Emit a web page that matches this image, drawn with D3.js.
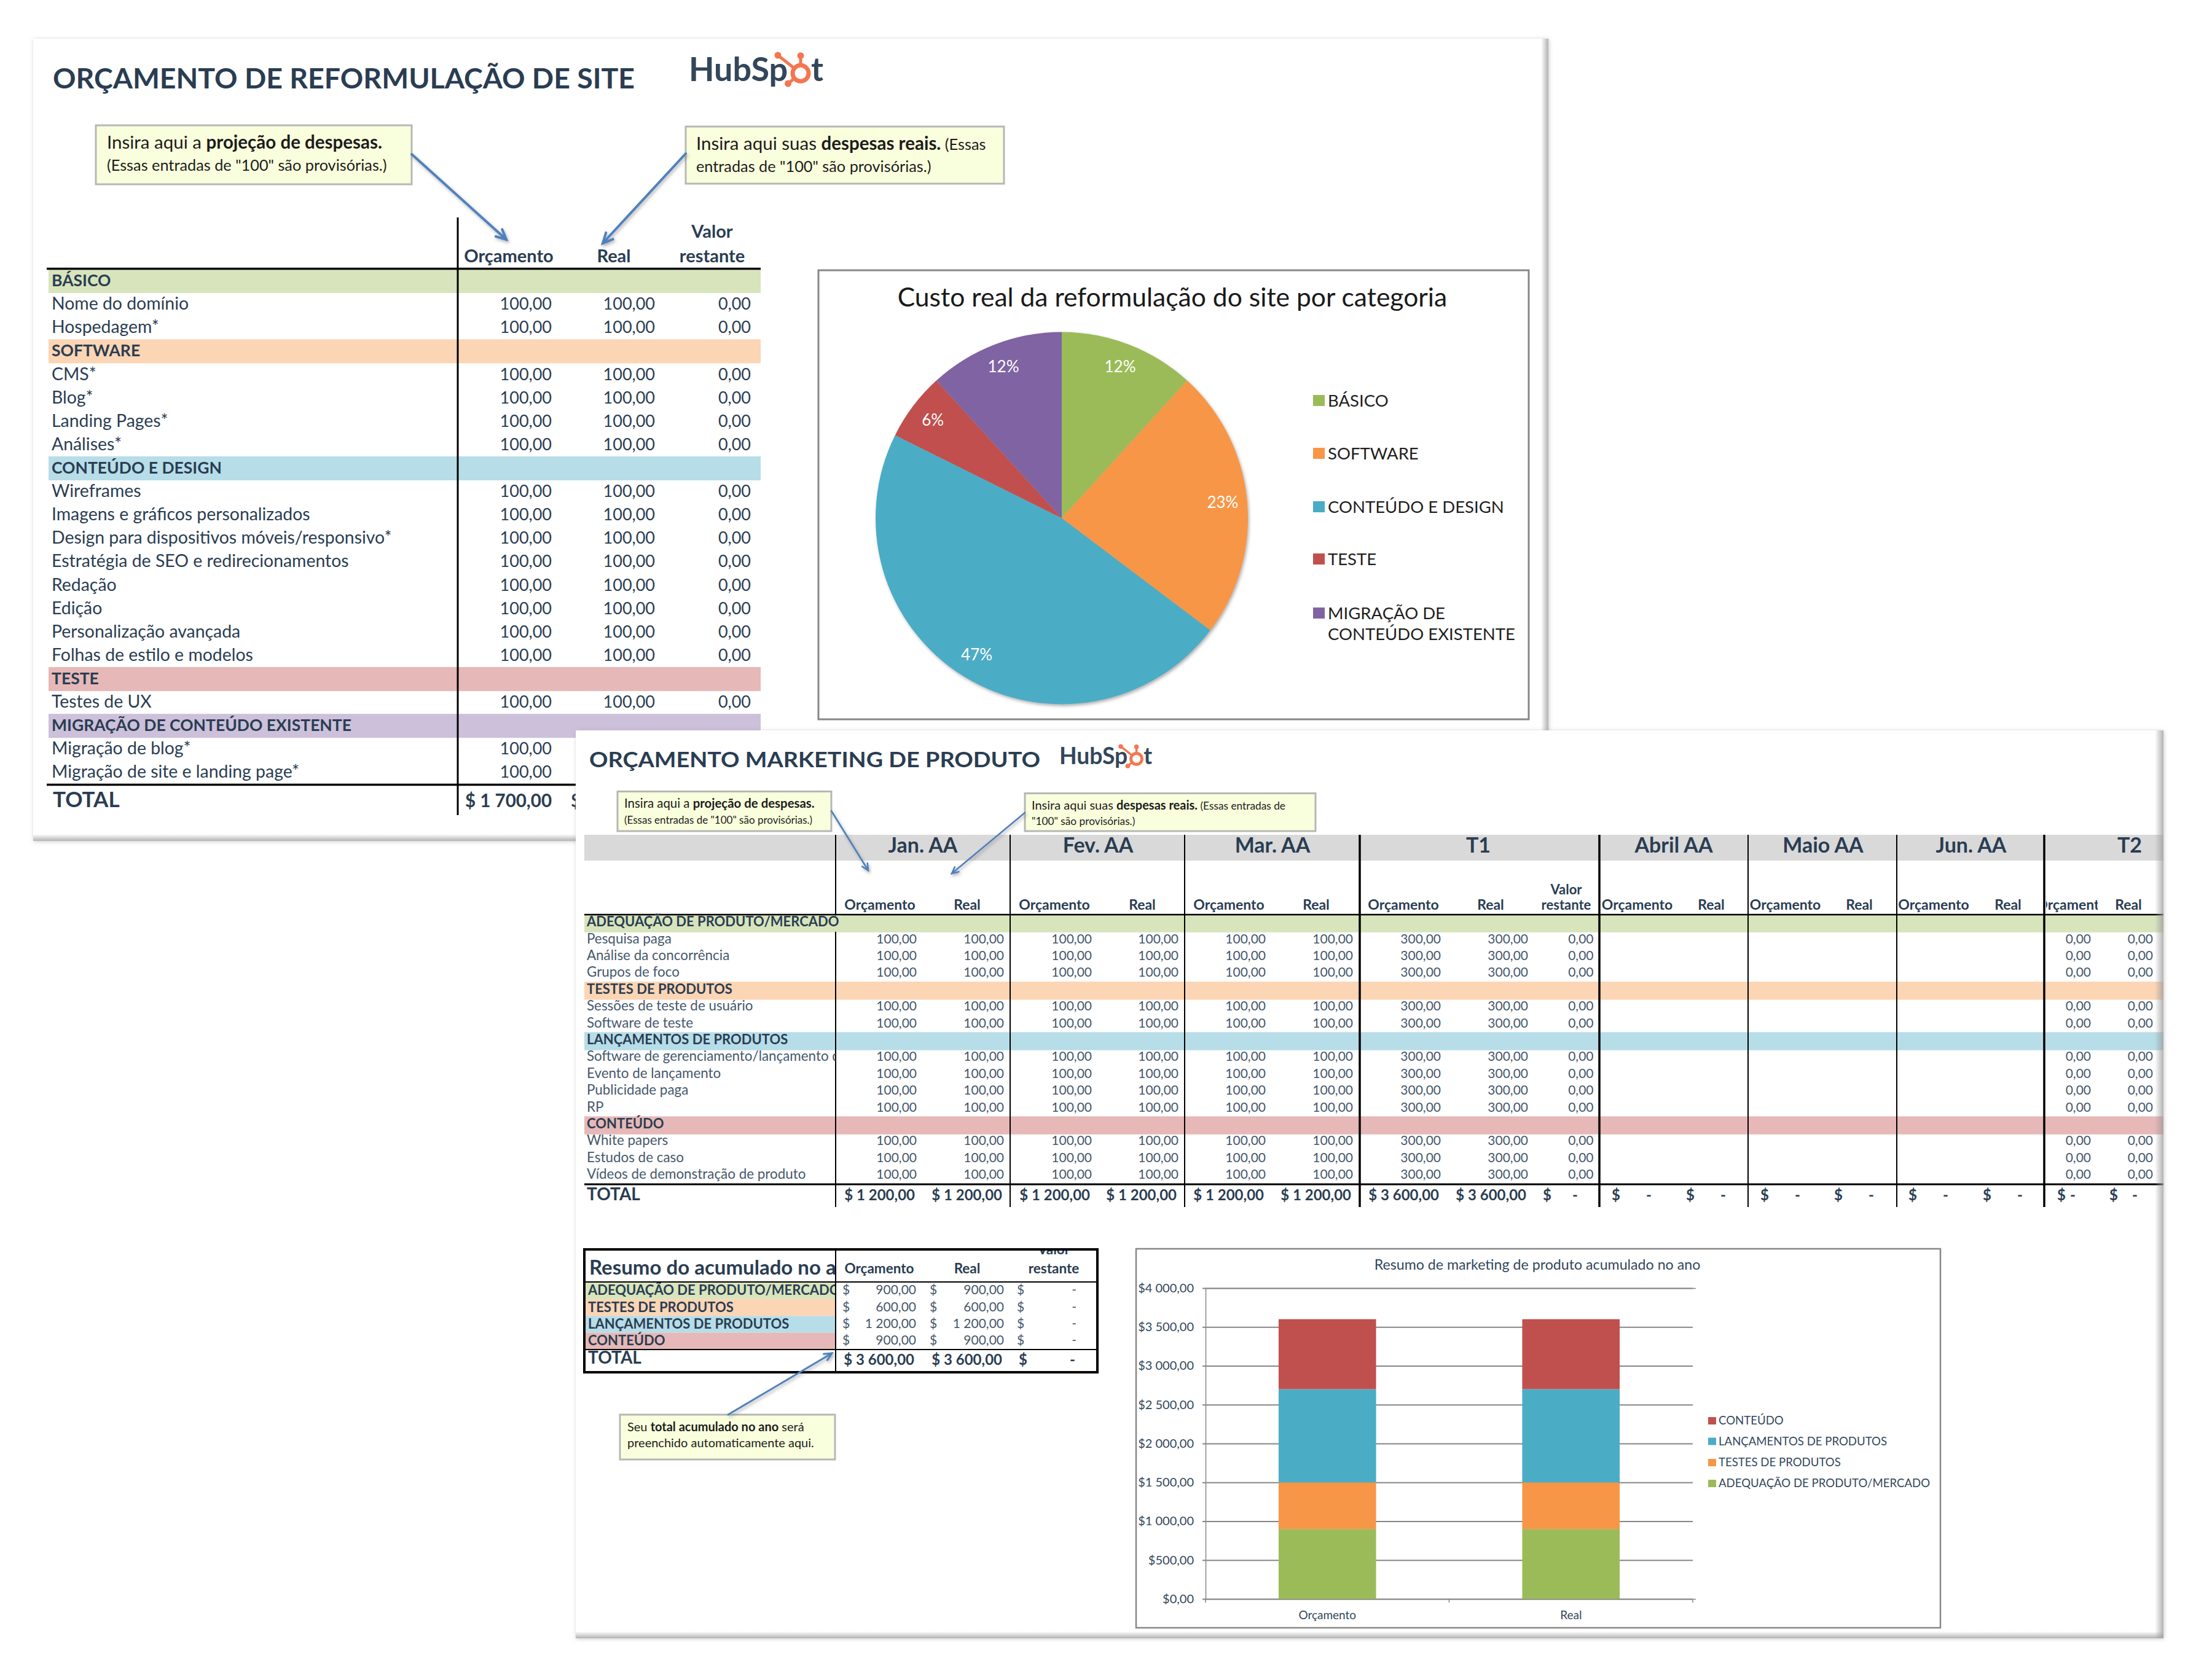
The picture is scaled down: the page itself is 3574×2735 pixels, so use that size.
<!DOCTYPE html>
<html>
<head>
<meta charset="utf-8">
<title>Orçamento</title>
<script src="https://d3js.org/d3.v7.min.js"></script>
<style>
    body { margin: 0; background: #fff; }
    svg { display: block; }
    text { font-family: Lato, "Open Sans", sans-serif; }
</style>
</head>
<body>
<svg id="chart" width="3574" height="2735"></svg>
<script>
// ---- data: site budget ----
const siteTitle = "ORÇAMENTO DE REFORMULAÇÃO DE SITE";
const siteRowLabels = ["BÁSICO", "Nome do domínio", "Hospedagem*", "SOFTWARE", "CMS*", "Blog*", "Landing Pages*", "Análises*",
    "CONTEÚDO E DESIGN", "Wireframes", "Imagens e gráficos personalizados", "Design para dispositivos móveis/responsivo*",
    "Estratégia de SEO e redirecionamentos", "Redação", "Edição", "Personalização avançada", "Folhas de estilo e modelos",
    "TESTE", "Testes de UX", "MIGRAÇÃO DE CONTEÚDO EXISTENTE", "Migração de blog*", "Migração de site e landing page*"];
const siteRowBudget = [null, 100, 100, null, 100, 100, 100, 100, null, 100, 100, 100, 100, 100, 100, 100, 100, null, 100, null, 100, 100];
// the last two rows of these columns sit under the second sheet
const siteRowReal = [null, 100, 100, null, 100, 100, 100, 100, null, 100, 100, 100, 100, 100, 100, 100, 100, null, 100, null, null, null];
const siteRowLeft = [null, 0, 0, null, 0, 0, 0, 0, null, 0, 0, 0, 0, 0, 0, 0, 0, null, 0, null, null, null];
const siteHeaders = ["Orçamento", "Real", "Valor restante"];
const siteTotal = 1700;

// ---- data: pie ----
const pieTitle = "Custo real da reformulação do site por categoria";
const pieCategories = ["BÁSICO", "SOFTWARE", "CONTEÚDO E DESIGN", "TESTE", "MIGRAÇÃO DE CONTEÚDO EXISTENTE"];
const pieValues = [200, 400, 800, 100, 200];
const pieLabels = ["12%", "23%", "47%", "6%", "12%"];

// ---- data: product marketing budget ----
const mktTitle = "ORÇAMENTO MARKETING DE PRODUTO";
const mktPeriods = ["Jan. AA", "Fev. AA", "Mar. AA", "T1", "Abril AA", "Maio AA", "Jun. AA", "T2"];
const mktRowLabels = ["ADEQUAÇÃO DE PRODUTO/MERCADO", "Pesquisa paga", "Análise da concorrência", "Grupos de foco",
    "TESTES DE PRODUTOS", "Sessões de teste de usuário", "Software de teste",
    "LANÇAMENTOS DE PRODUTOS", "Software de gerenciamento/lançamento d", "Evento de lançamento", "Publicidade paga", "RP",
    "CONTEÚDO", "White papers", "Estudos de caso", "Vídeos de demonstração de produto"];
const mktSections = ["ADEQUAÇÃO DE PRODUTO/MERCADO", "TESTES DE PRODUTOS", "LANÇAMENTOS DE PRODUTOS", "CONTEÚDO"];
// one entry per column, the same in every item row
const mktColumnHeaders = ["Orçamento", "Real", "Orçamento", "Real", "Orçamento", "Real", "Orçamento", "Real", "Valor restante",
    "Orçamento", "Real", "Orçamento", "Real", "Orçamento", "Real", "Orçamento", "Real"];
const mktColumnValues = [100, 100, 100, 100, 100, 100, 300, 300, 0, null, null, null, null, null, null, 0, 0];
const mktColumnTotals = [1200, 1200, 1200, 1200, 1200, 1200, 3600, 3600, 0, 0, 0, 0, 0, 0, 0, 0, 0];

// ---- data: year to date summary ----
const ytdTitle = "Resumo do acumulado no a";
const ytdBudget = [900, 600, 1200, 900];
const ytdReal = [900, 600, 1200, 900];
const ytdLeft = [0, 0, 0, 0];
const stackTitle = "Resumo de marketing de produto acumulado no ano";
const stackCategories = ["Orçamento", "Real"];
const stackTicks = [0, 500, 1000, 1500, 2000, 2500, 3000, 3500, 4000];

// ---- styles ----
const ink = "#2a3d52";
const softInk = "#46586c";
const sliceColors = ["#9bbb59", "#f79646", "#4bacc6", "#c0504d", "#8064a2"];
const siteBands = { "BÁSICO": "#d8e4bc", "SOFTWARE": "#fcd5b4", "CONTEÚDO E DESIGN": "#b7dde8", "TESTE": "#e6b8b7", "MIGRAÇÃO DE CONTEÚDO EXISTENTE": "#ccc0da" };
const mktBands = { "ADEQUAÇÃO DE PRODUTO/MERCADO": "#d8e4bc", "TESTES DE PRODUTOS": "#fcd5b4", "LANÇAMENTOS DE PRODUTOS": "#b7dde8", "CONTEÚDO": "#e6b8b7" };

const money = d3.formatLocale({ decimal: ",", thousands: " ", grouping: [3], currency: ["$", ""] }).format(",.2f");
const svg = d3.select("#chart");
const defs = svg.append("defs");

const panelShadow = defs.append("filter").attr("id", "panelShadow")
    .attr("x", "-2%").attr("y", "-2%").attr("width", "104%").attr("height", "104%");
panelShadow.append("feDropShadow").attr("dx", 1).attr("dy", 1).attr("stdDeviation", 3)
    .attr("flood-color", "#888").attr("flood-opacity", 0.45);
const softShadow = defs.append("filter").attr("id", "softShadow")
    .attr("x", "-10%").attr("y", "-10%").attr("width", "120%").attr("height", "120%");
softShadow.append("feDropShadow").attr("dx", 2).attr("dy", 3).attr("stdDeviation", 2.5)
    .attr("flood-color", "#555").attr("flood-opacity", 0.45);

function addClip(id, x, y, w, h) {
    defs.append("clipPath").attr("id", id).append("rect")
        .attr("x", x).attr("y", y).attr("width", w).attr("height", h);
}

function label(g, x, y, str, size, opts) {
    const o = opts || {};
    return g.append("text").attr("x", x).attr("y", y).text(str)
        .attr("font-size", size)
        .attr("font-weight", o.weight || 400)
        .attr("fill", o.fill || ink)
        .attr("text-anchor", o.anchor || "start");
}

function panel(x, y, w, h) {
    return svg.append("rect").attr("x", x).attr("y", y).attr("width", w).attr("height", h)
        .attr("fill", "#fff").attr("filter", "url(#panelShadow)");
}

function logo(x, y, k) {
    const g = svg.append("g").attr("transform", `translate(${x},${y}) scale(${k})`);
    const orange = "#f4764f";
    label(g, 0, 0, "HubSp", 54, { weight: 700, fill: "#33475b" });
    label(g, 199, 0, "t", 54, { weight: 700, fill: "#33475b" });
    const hub = [182, -12.4];
    [[182, -41], [145, -41.7], [161.5, 4.3]].forEach(d => {
        g.append("line").attr("x1", hub[0]).attr("y1", hub[1]).attr("x2", d[0]).attr("y2", d[1])
            .attr("stroke", orange).attr("stroke-width", 5);
        g.append("circle").attr("cx", d[0]).attr("cy", d[1]).attr("r", 5.5).attr("fill", orange);
    });
    g.append("circle").attr("cx", hub[0]).attr("cy", hub[1]).attr("r", 13)
        .attr("fill", "#fff").attr("stroke", orange).attr("stroke-width", 7);
}

// runs is a list of lines, each line a list of [text, bold, size]
function callout(x, y, w, h, runs, textX, baselines, from, to, arrowW) {
    svg.append("rect").attr("x", x).attr("y", y).attr("width", w).attr("height", h)
        .attr("fill", "#f9ffdc").attr("stroke", "#b7b7b7").attr("stroke-width", 3);
    runs.forEach((line, i) => {
        const t = svg.append("text").attr("x", textX).attr("y", baselines[i]).attr("fill", "#1c1c1c");
        line.forEach(r => {
            t.append("tspan").text(r[0]).attr("font-size", r[2]).attr("font-weight", r[1] ? 700 : 400);
        });
    });
    const ang = Math.atan2(to[1] - from[1], to[0] - from[0]);
    const head = arrowW * 4.5;
    const g = svg.append("g").attr("filter", "url(#softShadow)").attr("stroke", "#4f81bd")
        .attr("stroke-width", arrowW).attr("fill", "none").attr("stroke-linecap", "round");
    g.append("path").attr("d", d3.line()([from, to]));
    g.append("path").attr("d", d3.line()([
        [to[0] - head * Math.cos(ang - 0.45), to[1] - head * Math.sin(ang - 0.45)], to,
        [to[0] - head * Math.cos(ang + 0.45), to[1] - head * Math.sin(ang + 0.45)]]));
}

function edgeShade(x, y, w, h, id, horizontal) {
    const grad = defs.append("linearGradient").attr("id", id)
        .attr("x1", 0).attr("y1", 0).attr("x2", horizontal ? 1 : 0).attr("y2", horizontal ? 0 : 1);
    grad.append("stop").attr("offset", 0).attr("stop-color", "#999").attr("stop-opacity", 0);
    grad.append("stop").attr("offset", 1).attr("stop-color", "#999").attr("stop-opacity", 0.75);
    svg.append("rect").attr("x", x).attr("y", y).attr("width", w).attr("height", h).attr("fill", `url(#${id})`);
}

// ==== first sheet: site budget ====
panel(54, 63, 2466, 1306);
label(svg, 86, 144, siteTitle, 46, { weight: 700 }).attr("textLength", 947).attr("lengthAdjust", "spacingAndGlyphs");
logo(1121, 131.7, 1);

const siteRowY = d3.scaleLinear().domain([0, siteRowLabels.length]).range([439, 1277.5]);
const siteRowH = siteRowY(1) - siteRowY(0);
const siteValueX = [898, 1066, 1222];
const siteHeaderX = [828, 999, 1159];
const siteLine = 745;
const siteG = svg.append("g");

siteG.selectAll("rect.band").data(siteRowLabels.filter(d => siteBands[d])).enter().append("rect")
    .attr("x", 79).attr("width", 1159)
    .attr("y", d => siteRowY(siteRowLabels.indexOf(d)) - 1)
    .attr("height", siteRowH + 1)
    .attr("fill", d => siteBands[d]);

siteG.selectAll("text.row").data(siteRowLabels).enter().append("text")
    .attr("x", 84)
    .attr("y", (d, i) => siteRowY(i) + siteRowH / 2 + 8)
    .attr("font-size", d => siteBands[d] ? 26.5 : 28.4)
    .attr("font-weight", d => siteBands[d] ? 700 : 400)
    .attr("fill", ink)
    .text(d => d);

[siteRowBudget, siteRowReal, siteRowLeft].forEach((col, c) => {
    const cells = col.map((v, i) => ({ v, i })).filter(d => d.v !== null);
    siteG.selectAll(`text.c${c}`).data(cells).enter().append("text")
        .attr("x", siteValueX[c])
        .attr("y", d => siteRowY(d.i) + siteRowH / 2 + 8)
        .attr("text-anchor", "end").attr("font-size", 27).attr("fill", ink)
        .text(d => money(d.v));
});

label(siteG, siteHeaderX[0], 427, siteHeaders[0], 29, { weight: 700, anchor: "middle" });
label(siteG, siteHeaderX[1], 427, siteHeaders[1], 29, { weight: 700, anchor: "middle" });
label(siteG, siteHeaderX[2], 387, siteHeaders[2].split(" ")[0], 29, { weight: 700, anchor: "middle" });
label(siteG, siteHeaderX[2], 427, siteHeaders[2].split(" ")[1], 29, { weight: 700, anchor: "middle" });

siteG.append("line").attr("x1", siteLine).attr("x2", siteLine).attr("y1", 354).attr("y2", 1327)
    .attr("stroke", "#000").attr("stroke-width", 3);
siteG.append("line").attr("x1", 76).attr("x2", 1238).attr("y1", 437.5).attr("y2", 437.5)
    .attr("stroke", "#000").attr("stroke-width", 3.5);
siteG.append("line").attr("x1", 76).attr("x2", 1238).attr("y1", 1277.5).attr("y2", 1277.5)
    .attr("stroke", "#000").attr("stroke-width", 3.5);

label(siteG, 86, 1314, "TOTAL", 35, { weight: 700 });
label(siteG, siteValueX[0], 1314, "$ " + money(siteTotal), 29.5, { weight: 700, anchor: "end" });
// only the currency sign of the next total is left showing beside the second sheet
label(siteG, 929, 1314, "$", 29.5, { weight: 700 });

callout(156, 204, 514, 96,
    [[["Insira aqui a ", false, 29.5], ["projeção de despesas.", true, 29.5]],
     [["(Essas entradas de \"100\" são provisórias.)", false, 25.3]]],
    174, [242, 278], [670, 251], [824, 390], 4);
callout(1116, 206, 518, 93,
    [[["Insira aqui suas ", false, 29.5], ["despesas reais.", true, 29.5], [" (Essas", false, 25.3]],
     [["entradas de \"100\" são provisórias.)", false, 25.3]]],
    1133, [244, 280], [1116, 250], [981, 396], 4);

// ---- pie ----
const pieG = svg.append("g");
pieG.append("rect").attr("x", 1332).attr("y", 440).attr("width", 1156).attr("height", 731)
    .attr("fill", "#fff").attr("stroke", "#878787").attr("stroke-width", 3);
label(pieG, 1908, 499, pieTitle, 42.6, { anchor: "middle", fill: "#1a1a1a" });

const pieCenter = [1728, 843.5];
const pieR = 303;
const pieLayout = d3.pie().sort(null).value(d => d);
const pieArc = d3.arc().innerRadius(0).outerRadius(pieR);
const pieLabelArc = d3.arc().innerRadius(263).outerRadius(263);
const pieSlices = pieG.append("g").attr("transform", `translate(${pieCenter})`);
pieSlices.append("g").attr("filter", "url(#softShadow)")
    .selectAll("path").data(pieLayout(pieValues)).enter().append("path")
    .attr("d", pieArc)
    .attr("fill", (d, i) => sliceColors[i]);
pieSlices.selectAll("text").data(pieLayout(pieValues)).enter().append("text")
    .attr("transform", d => `translate(${pieLabelArc.centroid(d)})`)
    .attr("y", 8)
    .attr("text-anchor", "middle").attr("font-size", 26).attr("fill", "#fff")
    .text((d, i) => pieLabels[i]);

const pieLegendY = [652, 738, 825, 910, 998];
pieCategories.forEach((name, i) => {
    pieG.append("rect").attr("x", 2137).attr("y", pieLegendY[i] - 9).attr("width", 19).attr("height", 18)
        .attr("fill", sliceColors[i]);
    if (i === 4) {
        label(pieG, 2161, pieLegendY[i] + 10, "MIGRAÇÃO DE", 27.5, { fill: "#1f1f1f" });
        label(pieG, 2161, pieLegendY[i] + 44, "CONTEÚDO EXISTENTE", 27.5, { fill: "#1f1f1f" });
    } else {
        label(pieG, 2161, pieLegendY[i] + 10, name, 27.5, { fill: "#1f1f1f" });
    }
});
edgeShade(2508, 63, 12, 1126, "shadeA", true);
edgeShade(54, 1358, 883, 11, "shadeC", false);

// ==== second sheet: product marketing ====
panel(937, 1189, 2584, 1478);
label(svg, 959, 1249, mktTitle, 35, { weight: 700 }).attr("textLength", 734).attr("lengthAdjust", "spacingAndGlyphs");
logo(1724, 1244, 0.69);

const mktRowY = d3.scaleLinear().domain([0, mktRowLabels.length]).range([1489.5, 1928]);
const mktRowH = mktRowY(1) - mktRowY(0);
const mktEdges = [1360, 1644, 1928, 2213, 2603, 2845, 3087, 3327, 3521];
const mktThick = [2213, 2603, 3327];
const mktTitleX = [1502, 1787, 2071, 2406, 2724, 2967, 3208, 3466];
const mktHeaderX = [1432, 1574, 1716, 1859, 2000, 2142, 2284, 2426, 2549, 2664.5, 2785, 2905.5, 3026, 3147, 3268, 3372, 3464];
const mktValueX = [1492, 1634, 1777, 1918, 2060, 2202, 2345, 2487, 2593.5, 0, 0, 0, 0, 0, 0, 3403, 3504];
const mktDollarX = [0, 0, 0, 0, 0, 0, 0, 0, 2511, 2623, 2744, 2865, 2985, 3106, 3227, 3348, 3433];
const mktDashX = [0, 0, 0, 0, 0, 0, 0, 0, 2559, 2679, 2800, 2921, 3041, 3162, 3283, 3369, 3470];
const mktG = svg.append("g");
addClip("mktLabels", 951, 1489, 409, 450);
addClip("t2Head", 3330, 1450, 84, 40);

mktG.append("rect").attr("x", 951).attr("y", 1359).attr("width", 2570).attr("height", 42).attr("fill", "#d9d9d9");
mktG.selectAll("rect.band").data(mktSections).enter().append("rect")
    .attr("x", 951).attr("width", 2570)
    .attr("y", d => mktRowY(mktRowLabels.indexOf(d)) - 1)
    .attr("height", mktRowH + 2)
    .attr("fill", d => mktBands[d]);

mktG.selectAll("line.edge").data(mktEdges.slice(0, -1)).enter().append("line")
    .attr("x1", d => d).attr("x2", d => d).attr("y1", 1359).attr("y2", 1965)
    .attr("stroke", "#000").attr("stroke-width", d => mktThick.includes(d) ? 3.5 : 2);
mktG.append("line").attr("x1", 951).attr("x2", 3521).attr("y1", 1489).attr("y2", 1489)
    .attr("stroke", "#000").attr("stroke-width", 2.5);
mktG.append("line").attr("x1", 951).attr("x2", 3521).attr("y1", 1928).attr("y2", 1928)
    .attr("stroke", "#000").attr("stroke-width", 3);

mktG.selectAll("text.period").data(mktPeriods).enter().append("text")
    .attr("x", (d, i) => mktTitleX[i]).attr("y", 1388)
    .attr("text-anchor", "middle").attr("font-size", 34).attr("font-weight", 700).attr("fill", ink)
    .text(d => d);

mktColumnHeaders.forEach((h, c) => {
    const clip = c === 15 ? "url(#t2Head)" : null;
    if (h.includes(" ")) {
        label(mktG, mktHeaderX[c], 1456, h.split(" ")[0], 22, { weight: 700, anchor: "middle" });
        label(mktG, mktHeaderX[c], 1481, h.split(" ")[1], 22, { weight: 700, anchor: "middle" });
    } else {
        label(mktG, mktHeaderX[c], 1481, h, 23, { weight: 700, anchor: "middle" }).attr("clip-path", clip);
    }
});

// the first section title runs over the first vertical line, which is hidden on that row
mktG.selectAll("rect.over").data(mktSections.slice(0, 1)).enter().append("rect")
    .attr("x", 1355).attr("width", 14)
    .attr("y", d => mktRowY(mktRowLabels.indexOf(d)) + 1).attr("height", mktRowH - 1)
    .attr("fill", d => mktBands[d]);
mktG.selectAll("text.row").data(mktRowLabels).enter().append("text")
    .attr("x", 955)
    .attr("y", (d, i) => mktRowY(i) + mktRowH / 2 + 5)
    .attr("font-size", d => mktBands[d] ? 22 : 22.4)
    .attr("font-weight", d => mktBands[d] ? 700 : 400)
    .attr("fill", d => mktBands[d] ? ink : softInk)
    .attr("clip-path", d => mktBands[d] ? null : "url(#mktLabels)")
    .text(d => d);

mktColumnValues.forEach((v, c) => {
    if (v === null) return;
    mktG.selectAll(`text.v${c}`).data(mktRowLabels.filter(d => !mktBands[d])).enter().append("text")
        .attr("x", mktValueX[c])
        .attr("y", d => mktRowY(mktRowLabels.indexOf(d)) + mktRowH / 2 + 5)
        .attr("text-anchor", "end").attr("font-size", 21).attr("fill", softInk)
        .text(money(v));
});

label(mktG, 955, 1954, "TOTAL", 28, { weight: 700 });
mktColumnTotals.forEach((v, c) => {
    if (v) {
        label(mktG, mktValueX[c] - 3, 1954, "$ " + money(v), 24, { weight: 700, anchor: "end" });
    } else {
        label(mktG, mktDollarX[c], 1954, "$", 24, { weight: 700 });
        label(mktG, mktDashX[c], 1954, "-", 24, { weight: 700 });
    }
});

callout(1005, 1288.5, 348, 64.5,
    [[["Insira aqui a ", false, 20.4], ["projeção de despesas.", true, 20.4]],
     [["(Essas entradas de \"100\" são provisórias.)", false, 17]]],
    1016, [1315, 1340.5], [1353, 1320], [1413, 1417], 2.6);
callout(1668, 1291.5, 473, 61.5,
    [[["Insira aqui suas ", false, 20], ["despesas reais.", true, 20], [" (Essas entradas de", false, 17.3]],
     [["\"100\" são provisórias.)", false, 17.3]]],
    1679, [1318, 1343], [1668, 1323], [1549, 1422], 2.6);

// ---- year to date table ----
const ytdG = svg.append("g");
const ytdRowY = d3.scaleLinear().domain([0, mktSections.length]).range([2087.5, 2197]);
const ytdRowH = ytdRowY(1) - ytdRowY(0);
addClip("ytdBox", 949, 2034, 838, 200);
addClip("ytdLabels", 949, 2034, 411, 200);

ytdG.selectAll("rect").data(mktSections).enter().append("rect")
    .attr("x", 952).attr("width", 408)
    .attr("y", (d, i) => ytdRowY(i)).attr("height", ytdRowH)
    .attr("fill", d => mktBands[d]);
ytdG.selectAll("text.band").data(mktSections).enter().append("text")
    .attr("x", 957)
    .attr("y", (d, i) => ytdRowY(i) + ytdRowH / 2 + 7)
    .attr("font-size", 22).attr("font-weight", 700).attr("fill", ink)
    .attr("clip-path", "url(#ytdLabels)")
    .text(d => d);
label(ytdG, 959, 2075, ytdTitle, 33, { weight: 700 }).attr("clip-path", "url(#ytdLabels)");
label(ytdG, 1431, 2073, "Orçamento", 22.5, { weight: 700, anchor: "middle" });
label(ytdG, 1574, 2073, "Real", 22.5, { weight: 700, anchor: "middle" });
label(ytdG, 1715, 2042, "Valor", 22.5, { weight: 700, anchor: "middle" }).attr("clip-path", "url(#ytdBox)");
label(ytdG, 1715, 2073, "restante", 22.5, { weight: 700, anchor: "middle" });

[[ytdBudget, 1371, 1491], [ytdReal, 1513, 1634], [ytdLeft, 1655, 1752]].forEach((col, c) => {
    col[0].forEach((v, i) => {
        const y = ytdRowY(i) + ytdRowH / 2 + 6;
        label(ytdG, col[1], y, "$", 21, { fill: softInk });
        label(ytdG, col[2], y, v ? money(v) : "-", 21, { fill: softInk, anchor: "end" });
    });
});

label(ytdG, 957, 2220, "TOTAL", 28, { weight: 700 });
label(ytdG, 1488, 2222, "$ " + money(d3.sum(ytdBudget)), 24, { weight: 700, anchor: "end" });
label(ytdG, 1631, 2222, "$ " + money(d3.sum(ytdReal)), 24, { weight: 700, anchor: "end" });
label(ytdG, 1658, 2222, "$", 24, { weight: 700 });
label(ytdG, 1741, 2222, "-", 24, { weight: 700 });

ytdG.append("rect").attr("x", 951).attr("y", 2034).attr("width", 835).attr("height", 200)
    .attr("fill", "none").attr("stroke", "#000").attr("stroke-width", 4);
[[1360, 2034, 1360, 2234], [951, 2087, 1786, 2087], [951, 2197, 1786, 2197]].forEach(l => {
    ytdG.append("line").attr("x1", l[0]).attr("y1", l[1]).attr("x2", l[2]).attr("y2", l[3])
        .attr("stroke", "#000").attr("stroke-width", 2);
});

callout(1009, 2303, 350, 73,
    [[["Seu ", false, 20], ["total acumulado no ano", true, 20], [" será", false, 20]],
     [["preenchido automaticamente aqui.", false, 20]]],
    1021, [2330, 2356], [1185, 2303], [1354, 2203], 3);

// ---- stacked bars ----
const stackG = svg.append("g");
stackG.append("rect").attr("x", 1849).attr("y", 2033).attr("width", 1309).attr("height", 617)
    .attr("fill", "#fff").attr("stroke", "#878787").attr("stroke-width", 2.5);
label(stackG, 2502, 2067, stackTitle, 23.2, { anchor: "middle", fill: "#33475b" });

const stackX = d3.scaleBand().domain(stackCategories).range([1962, 2755]).paddingInner(0.6).paddingOuter(0.3);
const stackY = d3.scaleLinear().domain([0, 4000]).range([2603, 2097]);
const stackRows = stackCategories.map((c, k) => {
    const row = { category: c };
    mktSections.forEach((s, i) => { row[s] = (k === 0 ? ytdBudget : ytdReal)[i]; });
    return row;
});
const stackSeries = d3.stack().keys(mktSections)(stackRows);
const stackColors = d3.scaleOrdinal().domain(mktSections).range(["#9bbb59", "#f79646", "#4bacc6", "#c0504d"]);

const yAxis = d3.axisLeft(stackY).tickValues(stackTicks).tickSizeOuter(0)
    .tickSize(-(2755 - 1962) - 5).tickPadding(19).tickFormat(d => "$" + money(d));
const yG = stackG.append("g").attr("transform", "translate(1962,0)").call(yAxis);
yG.selectAll(".tick line").attr("x1", -5).attr("x2", 2755 - 1962).attr("stroke", "#868686").attr("stroke-width", 2);
yG.select(".domain").attr("stroke", "#868686").attr("stroke-width", 1.5);
yG.selectAll("text").attr("font-size", 20).attr("fill", "#33475b").attr("font-family", "Lato");

stackG.selectAll("g.series").data(stackSeries).enter().append("g")
    .attr("fill", d => stackColors(d.key))
    .selectAll("rect").data(d => d).enter().append("rect")
    .attr("x", d => stackX(d.data.category))
    .attr("width", stackX.bandwidth())
    .attr("y", d => stackY(d[1]))
    .attr("height", d => stackY(d[0]) - stackY(d[1]));

const xAxis = d3.axisBottom(stackX).tickSize(0).tickPadding(20);
const xG = stackG.append("g").attr("transform", "translate(0,2603)").call(xAxis);
xG.select(".domain").remove();
xG.selectAll("text").attr("font-size", 19).attr("fill", "#33475b").attr("font-family", "Lato");
stackG.selectAll("line.cat").data([0, 1, 2]).enter().append("line")
    .attr("x1", d => 1962 + d * (2755 - 1962) / 2).attr("x2", d => 1962 + d * (2755 - 1962) / 2)
    .attr("y1", 2603).attr("y2", 2609).attr("stroke", "#868686").attr("stroke-width", 1.5);

const stackLegendY = [2313, 2346.5, 2381, 2415];
mktSections.slice().reverse().forEach((name, i) => {
    stackG.append("rect").attr("x", 2780).attr("y", stackLegendY[i] - 6).attr("width", 13).attr("height", 12)
        .attr("fill", stackColors(name));
    label(stackG, 2797, stackLegendY[i] + 6, name, 18.6, { fill: "#33475b" });
});

edgeShade(3507, 1189, 14, 1478, "shadeB", true);
edgeShade(937, 2656, 2584, 11, "shadeD", false);
</script>
</body>
</html>
